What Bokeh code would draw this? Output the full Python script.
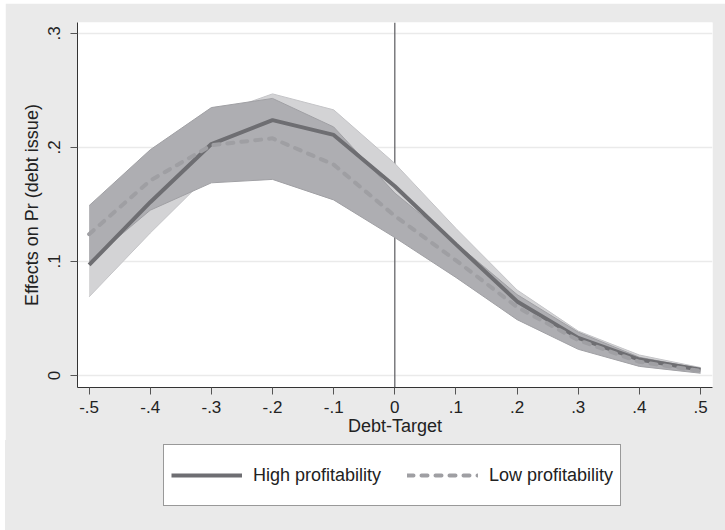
from bokeh.plotting import figure
from bokeh.layouts import column
from bokeh.models import ColumnDataSource, Legend, LegendItem, FixedTicker, Span, Range1d
from bokeh.embed import file_html
from bokeh.resources import INLINE

# ---- data ----
debt_target = [-0.5, -0.4, -0.3, -0.2, -0.1, 0.0, 0.1, 0.2, 0.3, 0.4, 0.5]
high = [0.097, 0.152, 0.203, 0.224, 0.211, 0.166, 0.115, 0.065, 0.033, 0.014, 0.005]
high_lo = [0.069, 0.125, 0.178, 0.201, 0.190, 0.146, 0.101, 0.056, 0.027, 0.010, 0.003]
high_hi = [0.125, 0.180, 0.228, 0.247, 0.233, 0.186, 0.129, 0.075, 0.039, 0.018, 0.007]
low = [0.124, 0.171, 0.202, 0.208, 0.185, 0.140, 0.101, 0.060, 0.031, 0.012, 0.004]
low_lo = [0.100, 0.145, 0.169, 0.172, 0.154, 0.121, 0.086, 0.049, 0.023, 0.008, 0.002]
low_hi = [0.149, 0.198, 0.235, 0.243, 0.218, 0.160, 0.116, 0.071, 0.038, 0.016, 0.006]

x_ticks = [-0.5, -0.4, -0.3, -0.2, -0.1, 0.0, 0.1, 0.2, 0.3, 0.4, 0.5]
x_tick_labels = ["-.5", "-.4", "-.3", "-.2", "-.1", "0", ".1", ".2", ".3", ".4", ".5"]
y_ticks = [0.0, 0.1, 0.2, 0.3]
y_tick_labels = ["0", ".1", ".2", ".3"]
series_names = ["High profitability", "Low profitability"]

src = ColumnDataSource(dict(x=debt_target, high=high, high_lo=high_lo, high_hi=high_hi,
                            low=low, low_lo=low_lo, low_hi=low_hi))

BG = "#EAEAEA"
FONT = "Liberation Sans"
HIGH_COLOR = "#6E6E72"
LOW_COLOR = "#9F9FA3"
LOW_DASH = "6 8"

p = figure(width=720, height=437, output_backend="svg", toolbar_location=None,
           x_range=Range1d(-0.519, 0.5196), y_range=Range1d(-0.0105, 0.3096),
           min_border_left=72, min_border_right=13, min_border_top=19, min_border_bottom=53)
p.margin = (3, 0, 0, 5)
p.background_fill_color = "white"
p.border_fill_color = BG
p.outline_line_color = None

# reference line at 0
p.add_layout(Span(location=0, dimension="height", line_color="#5A5A5E", line_width=1.2, level="underlay"))

# confidence bands
p.varea(x="x", y1="high_lo", y2="high_hi", source=src, fill_color="#D3D3D5")
p.line(x="x", y="high_hi", source=src, line_color="#C4C4C7", line_width=1)
p.line(x="x", y="high_lo", source=src, line_color="#C4C4C7", line_width=1)
p.varea(x="x", y1="low_lo", y2="low_hi", source=src, fill_color="#AEAEB2")
p.line(x="x", y="low_hi", source=src, line_color="#A0A0A4", line_width=1)
p.line(x="x", y="low_lo", source=src, line_color="#A0A0A4", line_width=1)

# mean lines
p.line(x="x", y="high", source=src, line_color=HIGH_COLOR, line_width=4)
p.line(x="x", y="low", source=src, line_color=LOW_COLOR, line_width=4,
       line_dash=LOW_DASH, line_cap="round")

# axes
p.xaxis.ticker = FixedTicker(ticks=x_ticks)
p.xaxis.major_label_overrides = dict(zip(x_ticks, x_tick_labels))
p.yaxis.ticker = FixedTicker(ticks=y_ticks)
p.yaxis.major_label_overrides = dict(zip(y_ticks, y_tick_labels))
p.yaxis.major_label_orientation = "vertical"
p.xaxis.axis_label = "Debt-Target"
p.yaxis.axis_label = "Effects on Pr (debt issue)"
for ax in (p.xaxis, p.yaxis):
    ax.axis_line_color = "#333333"
    ax.major_tick_line_color = "#555555"
    ax.major_tick_out = 7
    ax.major_tick_in = 0
    ax.minor_tick_line_color = None
    ax.major_label_text_font = FONT
    ax.major_label_text_font_size = "17px"
    ax.major_label_text_color = "#222222"
    ax.axis_label_text_font = FONT
    ax.axis_label_text_font_size = "18px"
    ax.axis_label_text_font_style = "normal"
    ax.axis_label_text_color = "#222222"
p.xaxis.major_label_standoff = 6
p.xaxis.axis_label_standoff = 0
p.yaxis.major_label_standoff = 10
p.yaxis.axis_label_standoff = 4

p.xgrid.grid_line_color = None
p.ygrid.grid_line_color = "#EAEAEA"
p.ygrid.grid_line_width = 1.5

# ---- legend strip below the plot ----
pl = figure(width=720, height=90, output_backend="svg", toolbar_location=None,
            x_range=Range1d(0, 1), y_range=Range1d(0, 1),
            x_axis_location=None, y_axis_location=None,
            min_border_left=0, min_border_right=0, min_border_top=0, min_border_bottom=0)
pl.margin = (0, 0, 0, 5)
pl.background_fill_alpha = 0
pl.border_fill_alpha = 0
pl.styles = {"background-color": BG}
pl.outline_line_color = None
pl.xgrid.visible = False
pl.ygrid.visible = False
lh = pl.line(x="x", y="high", source=src, line_color=HIGH_COLOR, line_width=4, visible=False)
ll = pl.line(x="x", y="low", source=src, line_color=LOW_COLOR, line_width=4,
             line_dash=LOW_DASH, line_cap="round", visible=False)

legend = Legend(items=[LegendItem(label=series_names[0], renderers=[lh]),
                       LegendItem(label=series_names[1], renderers=[ll])],
                orientation="horizontal", location=(86, 24))
legend.label_text_font = FONT
legend.label_text_font_size = "18px"
legend.label_text_color = "#222222"
legend.glyph_width = 71
legend.glyph_height = 46
legend.label_height = 46
legend.label_standoff = 11
legend.spacing = 26
legend.padding = 7
legend.margin = 0
legend.border_line_color = "#333333"
legend.border_line_width = 1
legend.background_fill_color = "white"
legend.background_fill_alpha = 1
pl.add_layout(legend, "center")

layout = column(p, pl, spacing=0)
open("out.html", "w").write(file_html(layout, INLINE))
